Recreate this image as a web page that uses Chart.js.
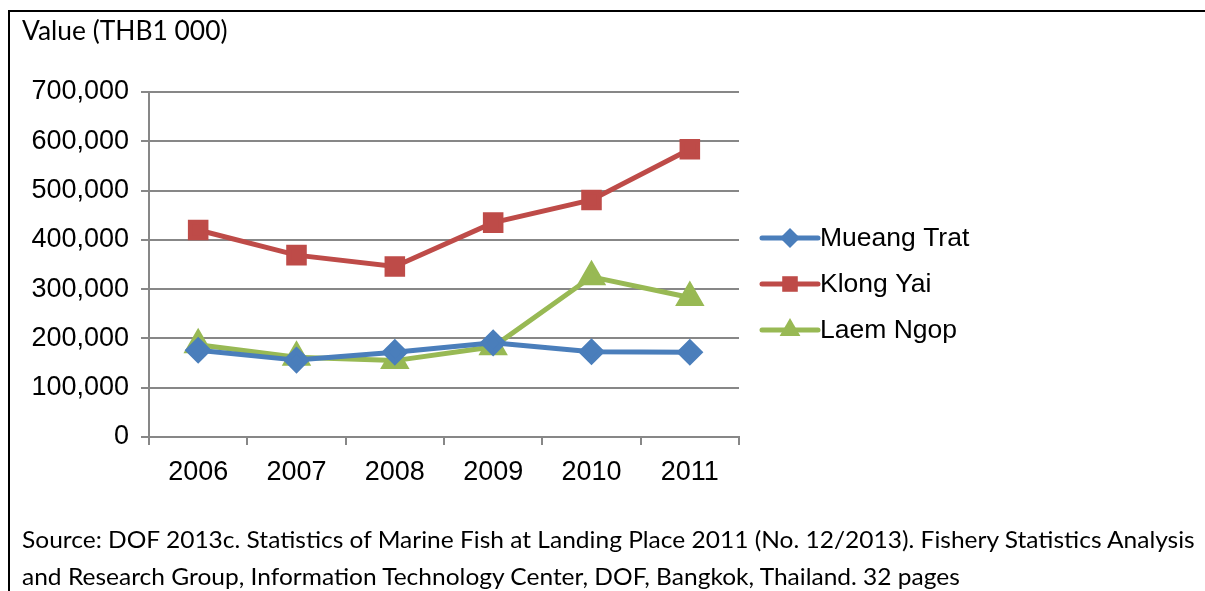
<!DOCTYPE html>
<html>
<head>
<meta charset="utf-8">
<script src="https://cdn.jsdelivr.net/npm/chart.js@4.4.1/dist/chart.umd.min.js"></script>
<style>
  body { margin: 0; background: #fff; }
  #wrap { position: relative; width: 1205px; height: 591px; overflow: hidden; }
  #frame { position: absolute; left: 8px; top: 10px; width: 1300px; height: 700px;
           border-top: 2px solid #000; border-left: 2px solid #000; }
  canvas { position: absolute; left: 0; top: 0; }
  .txt { position: absolute; left: 22px; white-space: nowrap; font-family: Lato, 'Open Sans', sans-serif;
         color: #000; transform-origin: left top; }
  #title { top: 14px; font-size: 26px; }
  #src1 { top: 524px; font-size: 24px; }
  #src2 { top: 561px; font-size: 24px; }
</style>
</head>
<body>
<div id="wrap">
  <div id="frame"></div>
  <canvas id="fishChart" width="1205" height="591"></canvas>
  <div class="txt" id="title">Value (THB1 000)</div>
  <div class="txt" id="src1">Source: DOF 2013c. Statistics of Marine Fish at Landing Place 2011 (No. 12/2013). Fishery Statistics Analysis</div>
  <div class="txt" id="src2">and Research Group, Information Technology Center, DOF, Bangkok, Thailand. 32 pages</div>
</div>
<script>
//data (THB 1 000)
const years = ['2006', '2007', '2008', '2009', '2010', '2011'];
const mueangTrat = [176000, 156000, 172000, 191000, 173000, 172000];
const klongYai = [420000, 369000, 346000, 435000, 481000, 584000];
const laemNgop = [187000, 162000, 155000, 183000, 325000, 283000];
const yTicks = [0, 100000, 200000, 300000, 400000, 500000, 600000, 700000];

const gridGray = '#878787';
const tickFont = {family: "'Liberation Sans', Arial, sans-serif", size: 27};

//squeeze the calibri-ish text to the widths in the picture
function fitWidth(id, target, ref) {
    const el = document.getElementById(id);
    const w = ref ? document.getElementById(ref).scrollWidth : el.scrollWidth;
    el.style.transform = 'scaleX(' + (target / w) + ')';
}
fitWidth('title', 206);
fitWidth('src1', 1173);
fitWidth('src2', 1173, 'src1');

//legend drawn like excel: line with marker in the middle
const lineLegend = {
    id: 'lineLegend',
    afterDraw(chart) {
        const c = chart.ctx;
        const x0 = 762, x1 = 818;
        const rows = [238, 284, 330];
        chart.data.datasets.forEach((ds, i) => {
            const y = rows[i];
            c.save();
            c.strokeStyle = ds.borderColor;
            c.lineWidth = 5;
            c.lineCap = 'round';
            c.beginPath();
            c.moveTo(x0, y);
            c.lineTo(x1, y);
            c.stroke();
            c.fillStyle = ds.backgroundColor;
            Chart.helpers.drawPoint(c, {pointStyle: ds.pointStyle, radius: ds.pointRadius, borderWidth: 0, rotation: 0}, (x0 + x1) / 2, y);
            c.fillStyle = '#000';
            c.font = "26.5px 'Liberation Sans', Arial, sans-serif";
            c.textBaseline = 'middle';
            c.fillText(ds.label, 820, y + 1);
            c.restore();
        });
    }
};

const ctx = document.getElementById('fishChart');
new Chart(ctx, {
    type: 'line',
    data: {
        labels: years,
        datasets: [
            {label: 'Mueang Trat', data: mueangTrat, borderColor: '#4A7EBB', backgroundColor: '#4A7EBB',
             pointStyle: 'rectRot', pointRadius: 10, borderWidth: 5},
            {label: 'Klong Yai', data: klongYai, borderColor: '#BE4B48', backgroundColor: '#BE4B48',
             pointStyle: 'rect', pointRadius: 11, borderWidth: 5},
            {label: 'Laem Ngop', data: laemNgop, borderColor: '#98B954', backgroundColor: '#98B954',
             pointStyle: 'triangle', pointRadius: 12, borderWidth: 5}
        ]
    },
    options: {
        responsive: false,
        animation: false,
        elements: {
            line: {tension: 0},
            point: {borderWidth: 0, hoverRadius: 10}
        },
        layout: {padding: {left: 0, top: 92, right: 466, bottom: 94}},
        scales: {
            x: {
                offset: true,
                afterFit(scale) { scale.height = 60; },
                grid: {offset: true, drawOnChartArea: false, drawTicks: true, tickLength: 8, color: gridGray, lineWidth: 2},
                border: {display: true, color: gridGray, width: 2},
                ticks: {color: '#000', font: tickFont, padding: 11, maxRotation: 0}
            },
            y: {
                min: 0,
                max: 700000,
                afterFit(scale) { scale.width = 149; },
                afterBuildTicks(scale) { scale.ticks = yTicks.map(v => ({value: v})); },
                grid: {color: gridGray, lineWidth: 2, tickLength: 8},
                border: {display: true, color: gridGray, width: 2},
                ticks: {
                    color: '#000',
                    font: tickFont,
                    padding: 12,
                    callback: v => v.toLocaleString('en-US')
                }
            }
        },
        plugins: {
            legend: {display: false},
            tooltip: {enabled: false}
        }
    },
    plugins: [lineLegend]
});
</script>
</body>
</html>
